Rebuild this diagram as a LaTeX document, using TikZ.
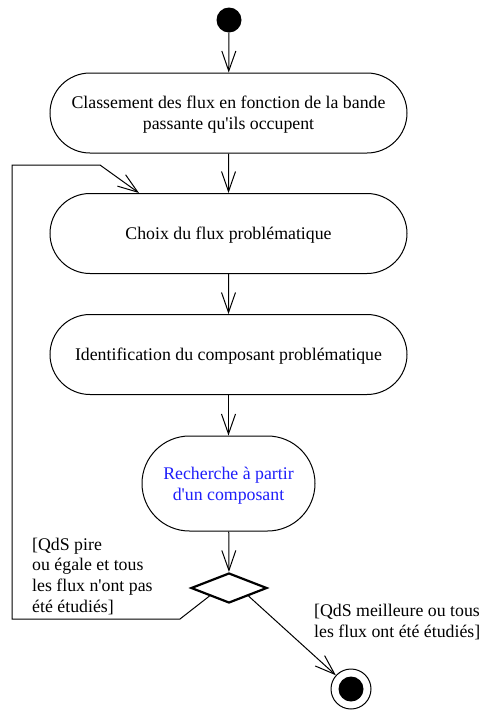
\documentclass[tikz,border=0pt]{standalone}
\usepackage{fontspec}
\setmainfont{Liberation Serif}[Ligatures=TeXOff]
\usetikzlibrary{shapes.misc,shapes.geometric,arrows.meta}
\definecolor{linkblue}{RGB}{30,30,250}
\begin{document}
\begin{tikzpicture}[x=1pt,y=-1pt,
  txt/.style={font=\fontsize{17.8}{20.8}\selectfont},
  action/.style={txt, rounded rectangle, draw, line width=1pt,
    minimum width=357pt, minimum height=80pt, align=center, inner sep=0pt,
    text depth=-4pt},
  startnode/.style={circle, fill, minimum size=25pt, inner sep=0pt},
  endnode/.style={circle, draw, line width=1pt, minimum size=40pt, inner sep=0pt},
  decision/.style={diamond, draw, line width=2.2pt, minimum width=76pt,
    minimum height=30pt, inner sep=0pt},
  flow/.style={-{Straight Barb[length=20pt,width=14pt]}, line width=1pt},
  guard/.style={txt, align=left, anchor=north west, inner sep=0pt}
]
\useasboundingbox (0,0) rectangle (480,710);

% start and end states
\node[startnode] (start) at (229,20) {};
\node[endnode] (end) at (351,689) {};
\fill (end.center) circle (12.5pt);

% actions
\node[action] (a1) at (228.5,113)
  {Classement des flux en fonction de la bande\\passante qu'ils occupent};
\node[action] (a2) at (228.5,233.5) {Choix du flux problématique};
\node[action] (a3) at (228.5,354.5) {Identification du composant problématique};
\node[action, minimum width=173pt, minimum height=95pt, text=linkblue]
  (a4) at (228.5,483.5) {Recherche à partir\\d'un composant};

% decision
\node[decision] (d) at (229,588) {};

% flows
\draw[flow] (start) -- (a1);
\draw[flow] (a1) -- (a2);
\draw[flow] (a2) -- (a3);
\draw[flow] (a3) -- (a4);
\draw[flow] (a4) -- (d);
\draw[flow] (d.south east) -- (end);
\draw[flow] (d.south west) -- (180,619) -- (12,619) -- (12,165) -- (100,165)
  -- ([xshift=-89.5pt]a2.north);

% guards
\node[guard] (g1) at (32,537.5)
  {[QdS pire\\ou égale et tous\\les flux n'ont pas\\été étudiés]};
\node[guard] (g2) at (314,604)
  {[QdS meilleure ou tous\\les flux ont été étudiés]};
\end{tikzpicture}
\end{document}
